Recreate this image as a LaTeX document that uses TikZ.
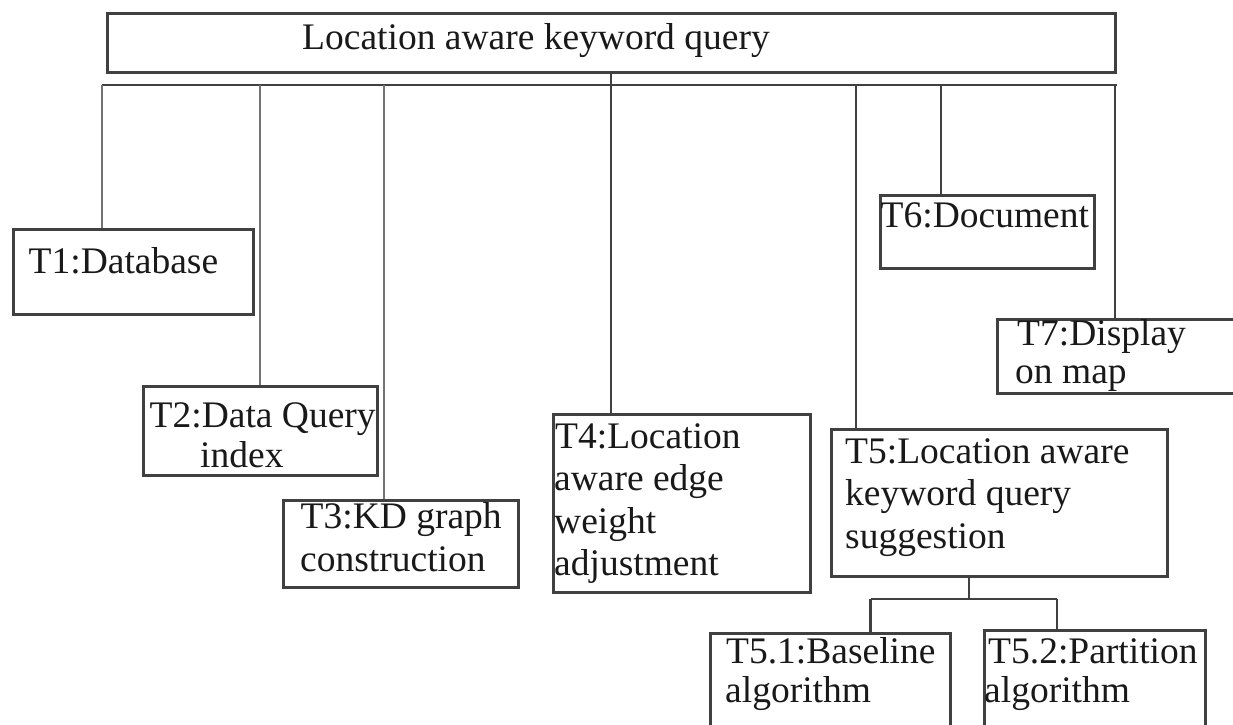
\documentclass[tikz,border=0pt]{standalone}
\usepackage{fontspec}
\setmainfont{Liberation Serif}
\begin{document}
\begin{tikzpicture}[x=1pt,y=-1pt,
  taskbox/.style={draw=black!75, line width=2.6pt, anchor=north west, inner sep=0pt, minimum width=#1},
  txt/.style={anchor=base west, inner sep=0pt, text=black!90, font=\fontsize{37.5}{42}\selectfont},
  link/.style={draw=black!55, line width=2.2pt},
  dlink/.style={draw=black!75, line width=2.4pt}]
\useasboundingbox (0,0) rectangle (1233,724);
\fill[white] (0,0) rectangle (1233,724);

% boxes: (left,top), width, height
\node[taskbox=1008pt, minimum height=59pt] (top) at (106,12) {};
\node[taskbox=240pt, minimum height=85pt] (t1) at (12,228) {};
\node[taskbox=234pt, minimum height=89pt] (t2) at (142,385) {};
\node[taskbox=235pt, minimum height=87pt] (t3) at (282,499) {};
\node[taskbox=257pt, minimum height=178pt] (t4) at (552,413) {};
\node[taskbox=336pt, minimum height=147pt] (t5) at (830,428) {};
\node[taskbox=214pt, minimum height=73pt] (t6) at (879,194) {};
\node[taskbox=260pt, minimum height=74pt] (t7) at (996,318) {};
\node[taskbox=240pt, minimum height=110pt] (t51) at (709,632) {};
\node[taskbox=221pt, minimum height=110pt] (t52) at (983,629) {};

% texts
\node[txt] (toptext) at (302,49) {Location aware keyword query};
\node[txt] (t1a) at (28.5,273) {T1:Database};
\node[txt] (t2a) at (149.5,427) {T2:Data Query};
\node[txt] (t2b) at (200,467) {index};
\node[txt] (t3a) at (300.5,528) {T3:KD graph};
\node[txt] (t3b) at (300,571) {construction};
\node[txt] (t4a) at (555,448) {T4:Location};
\node[txt] (t4b) at (554,490) {aware edge};
\node[txt] (t4c) at (554,533) {weight};
\node[txt] (t4d) at (554,575) {adjustment};
\node[txt] (t5a) at (845,463) {T5:Location aware};
\node[txt] (t5b) at (845,505) {keyword query};
\node[txt] (t5c) at (845,548) {suggestion};
\node[txt] (t6a) at (880.5,227) {T6:Document};
\node[txt] (t7a) at (1017,345) {T7:Display};
\node[txt] (t7b) at (1015,383) {on map};
\node[txt] (t51a) at (726,663) {T5.1:Baseline};
\node[txt] (t51b) at (725,702) {algorithm};
\node[txt] (t52a) at (988,663) {T5.2:Partition};
\node[txt] (t52b) at (984,702) {algorithm};

% bus
\coordinate (busL) at (102,85);
\coordinate (busR) at (1117,85);
\coordinate (b2) at (260,85);
\coordinate (b3) at (384,85);
\coordinate (b4) at (611,85);
\coordinate (b5) at (856,85);
\coordinate (b6) at (941,85);
\coordinate (b7) at (1115,85);
\draw[dlink] (busL) -- (busR);
\draw[link] (busL) -- (busL |- t1.north);
\draw[link] (b2) -- (b2 |- t2.north);
\draw[link] (b3) -- (b3 |- t3.north);
\draw[dlink] (top.south -| b4) -- (b4 |- t4.north);
\draw[dlink] (b5) -- (b5 |- t5.north);
\draw[dlink] (b6) -- (b6 |- t6.north);
\draw[dlink] (b7) -- (b7 |- t7.north);

% T5 sub-tree
\coordinate (s5) at (969,599);
\coordinate (s51) at (870.5,599);
\coordinate (s52) at (1057,599);
\draw[dlink] (t5.south -| s5) -- (s5);
\draw[dlink] (s51) -- (s52);
\draw[dlink] (s51) -- (s51 |- t51.north);
\draw[dlink] (s52) -- (s52 |- t52.north);
\end{tikzpicture}
\end{document}
